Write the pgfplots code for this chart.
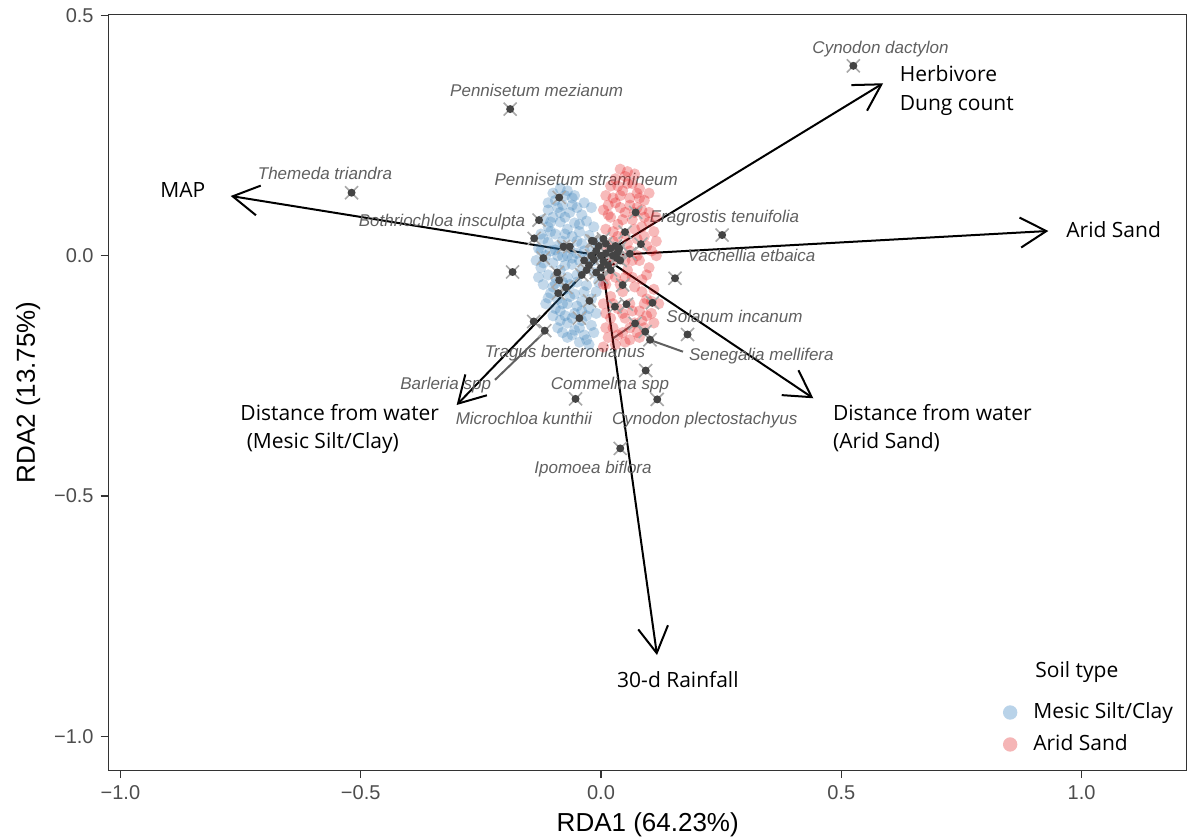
\documentclass[border=0pt]{standalone}
\usepackage{pgfplots}
\pgfplotsset{compat=1.18}
\usepackage{pgfplotstable}
\usepackage{fontspec}
\setmainfont{Liberation Sans}
\newfontfamily\osans{Open Sans}
\usetikzlibrary{arrows.meta}
\definecolor{sblue}{HTML}{377EB8}
\definecolor{sred}{HTML}{E41A1C}
\definecolor{lblue}{HTML}{B9D3E9}
\definecolor{lred}{HTML}{F5B5B6}
\definecolor{dgray}{HTML}{444444}
\definecolor{xgray}{HTML}{A8A8A8}
\definecolor{lgray}{HTML}{606060}
\definecolor{framec}{HTML}{333333}
\definecolor{tickl}{HTML}{4D4D4D}
\pgfdeclareplotmark{fdot}{\pgfpathcircle{\pgfpointorigin}{\pgfplotmarksize}\pgfusepathqfill}

\pgfplotstableread{
x y
-0.085 0.140
-0.070 0.135
-0.060 0.120
-0.095 0.115
-0.080 0.105
-0.050 0.100
-0.110 0.095
-0.065 0.090
-0.040 0.085
-0.100 0.080
-0.120 0.075
-0.085 0.070
-0.055 0.068
-0.030 0.072
-0.015 0.060
-0.110 0.060
-0.070 0.055
-0.045 0.050
-0.095 0.045
-0.125 0.045
-0.060 0.040
-0.025 0.042
-0.080 0.030
-0.110 0.028
-0.040 0.025
-0.130 0.015
-0.095 0.012
-0.065 0.015
-0.020 0.018
-0.050 0.005
-0.115 0.000
-0.080 -0.002
-0.030 -0.005
-0.100 -0.015
-0.060 -0.018
-0.125 -0.025
-0.085 -0.030
-0.040 -0.030
-0.015 -0.035
-0.110 -0.040
-0.070 -0.045
-0.050 -0.055
-0.095 -0.058
-0.120 -0.060
-0.030 -0.062
-0.075 -0.070
-0.105 -0.078
-0.055 -0.080
-0.010 -0.075
-0.090 -0.090
-0.040 -0.095
-0.070 -0.100
-0.115 -0.100
-0.025 -0.110
-0.085 -0.115
-0.055 -0.120
-0.100 -0.125
-0.040 -0.135
-0.070 -0.140
-0.020 -0.145
-0.090 -0.150
-0.055 -0.155
-0.035 -0.165
-0.070 -0.170
-0.045 -0.180
-0.025 -0.185
-0.060 -0.130
-0.010 -0.120
-0.005 -0.055
-0.008 0.030
-0.035 0.110
-0.075 0.080
-0.090 0.000
-0.135 -0.010
-0.105 0.050
-0.045 -0.010
-0.065 -0.060
-0.080 -0.160
-0.015 -0.160
-0.100 0.130
-0.075 0.125
-0.090 0.100
-0.060 0.105
-0.105 0.070
-0.045 0.065
-0.075 0.045
-0.120 0.035
-0.050 0.030
-0.090 0.020
-0.105 0.010
-0.070 0.000
-0.035 0.010
-0.120 -0.015
-0.075 -0.020
-0.050 -0.040
-0.095 -0.045
-0.130 -0.045
-0.080 -0.055
-0.035 -0.075
-0.065 -0.085
-0.110 -0.088
-0.080 -0.100
-0.050 -0.105
-0.095 -0.110
-0.030 -0.125
-0.075 -0.125
-0.045 -0.150
-0.060 -0.165
-0.030 -0.175
-0.085 -0.135
-0.020 -0.090
-0.110 0.110
-0.055 0.125
-0.020 0.100
-0.040 -0.115
-0.100 -0.065
-0.125 0.010
-0.060 -0.005
-0.015 -0.010
-0.085 0.090
}\mesic

\pgfplotstableread{
x y
0.040 0.180
0.050 0.165
0.030 0.160
0.065 0.150
0.020 0.145
0.080 0.140
0.045 0.135
0.010 0.125
0.060 0.120
0.090 0.115
0.030 0.110
0.075 0.100
0.005 0.095
0.050 0.090
0.100 0.090
0.020 0.080
0.065 0.075
0.035 0.065
0.085 0.060
0.010 0.055
0.110 0.050
0.050 0.045
0.075 0.035
0.025 0.030
0.095 0.020
0.060 0.010
0.040 0.000
0.115 0.000
0.080 -0.010
0.015 -0.015
0.100 -0.025
0.055 -0.030
0.030 -0.045
0.085 -0.050
0.070 -0.065
0.110 -0.070
0.045 -0.075
0.020 -0.085
0.095 -0.090
0.060 -0.100
0.035 -0.110
0.080 -0.115
0.010 -0.120
0.105 -0.120
0.050 -0.130
0.070 -0.140
0.025 -0.150
0.090 -0.150
0.045 -0.160
0.015 -0.170
0.060 -0.175
0.030 -0.185
0.005 -0.190
0.120 -0.100
0.070 0.170
0.100 0.130
0.040 0.100
0.010 0.020
0.065 -0.010
0.005 -0.060
0.090 0.080
0.115 0.030
0.075 -0.160
0.035 0.040
0.055 0.150
0.025 -0.010
0.085 -0.135
0.050 -0.045
0.015 0.105
0.080 0.120
0.055 0.175
0.035 0.145
0.075 0.130
0.025 0.120
0.060 0.105
0.085 0.095
0.015 0.085
0.045 0.075
0.100 0.070
0.070 0.055
0.025 0.050
0.090 0.040
0.055 0.025
0.105 0.010
0.030 0.010
0.075 0.000
0.050 -0.010
0.095 -0.040
0.015 -0.040
0.065 -0.045
0.040 -0.060
0.085 -0.075
0.105 -0.095
0.025 -0.100
0.065 -0.115
0.045 -0.120
0.095 -0.125
0.020 -0.130
0.060 -0.150
0.035 -0.165
0.080 -0.170
0.010 -0.150
0.050 -0.180
0.110 -0.140
0.005 -0.100
0.040 0.125
0.070 0.090
0.115 0.080
0.010 -0.060
0.090 -0.100
}\arid

\pgfplotstableread{
x y
0.525 0.395
-0.189 0.305
-0.519 0.131
-0.087 0.121
-0.129 0.074
0.072 0.090
0.060 0.004
0.180 -0.164
0.102 -0.175
0.071 -0.141
-0.117 -0.156
0.093 -0.239
-0.053 -0.298
0.117 -0.299
0.040 -0.401
0.252 0.043
0.154 -0.047
-0.184 -0.034
-0.140 -0.137
0.107 -0.098
0.053 -0.101
0.029 -0.106
0.092 -0.158
-0.045 -0.130
-0.024 -0.094
-0.089 -0.078
-0.139 0.036
-0.078 0.019
-0.065 0.019
-0.019 0.031
0.050 0.049
0.083 0.024
-0.120 -0.005
-0.091 -0.035
-0.087 -0.051
-0.073 -0.066
0.045 -0.061
0.038 0.015
0.033 -0.005
0.000 0.000
0.010 0.005
-0.010 0.010
0.005 -0.012
-0.015 -0.008
0.020 0.015
-0.005 0.020
0.015 -0.020
-0.020 0.000
0.025 0.000
-0.025 -0.020
0.000 -0.025
0.010 0.025
-0.030 -0.030
0.030 0.020
0.020 -0.030
-0.010 -0.035
0.035 0.008
-0.035 -0.010
0.005 0.035
-0.040 -0.040
0.000 -0.045
-0.015 0.030
0.040 -0.010
}\species

\begin{document}
\begin{tikzpicture}
\begin{axis}[
  x=240.3pt, y=240.3pt,
  xmin=-1.0244, xmax=1.219, ymin=-1.0705, ymax=0.5015,
  axis line style={framec, line width=0.6pt},
  xtick={-1,-0.5,0,0.5,1},
  xticklabels={−1.0,−0.5,0.0,0.5,1.0},
  ytick={-1,-0.5,0,0.5},
  yticklabels={−1.0,−0.5,0.0,0.5},
  xtick pos=left, ytick pos=left,
  tick align=outside, major tick length=4pt,
  every tick/.style={framec, line width=0.6pt},
  tick label style={font=\fontsize{10}{11}\selectfont, color=tickl},
  /pgf/number format/assume math mode=true,
  xlabel={RDA1 (64.23\%)}, ylabel={RDA2 (13.75\%)},
  label style={font=\fontsize{13}{15}\selectfont, color=black},
  clip=false,
  legend style={draw=none, fill=none, at={(0.8235,0.1)}, anchor=north west,
    font=\osans\fontsize{10.5}{12}\selectfont, row sep=2.5pt,
    /tikz/every odd column/.append style={column sep=6pt},
    /tikz/every even column/.append style={column sep=0pt}},
  legend cell align=left,
]
\addplot[only marks, mark=fdot, mark size=2.8pt, color=sblue, opacity=0.3, forget plot] table[x=x,y=y] {\mesic};
\addplot[only marks, mark=fdot, mark size=2.8pt, color=sred, opacity=0.3, forget plot] table[x=x,y=y] {\arid};
\addplot[only marks, mark=x, mark size=4.6pt, color=xgray, line width=0.8pt, forget plot] table[x=x,y=y] {\species};
\addplot[only marks, mark=fdot, mark size=2pt, color=dgray, forget plot] table[x=x,y=y] {\species};
% gray repel segments
\addplot[lgray, line width=1pt, forget plot] coordinates {(-0.2206,-0.2584) (-0.12,-0.1615)};
\addplot[lgray, line width=1pt, forget plot] coordinates {(0.0256,-0.1716) (0.0707,-0.1407)};
\addplot[lgray, line width=1pt, forget plot] coordinates {(0.1706,-0.1998) (0.102,-0.1754)};
% biplot arrows
\addplot[black, line width=1pt, -{Straight Barb[length=13pt,width=15pt]}, forget plot] coordinates {(0,0) (-0.7705,0.1242)};
\addplot[black, line width=1pt, -{Straight Barb[length=13pt,width=15pt]}, forget plot] coordinates {(0,0) (0.587,0.3587)};
\addplot[black, line width=1pt, -{Straight Barb[length=13pt,width=15pt]}, forget plot] coordinates {(0,0) (0.9307,0.0514)};
\addplot[black, line width=1pt, -{Straight Barb[length=13pt,width=15pt]}, forget plot] coordinates {(0,0) (0.4418,-0.2967)};
\addplot[black, line width=1pt, -{Straight Barb[length=13pt,width=15pt]}, forget plot] coordinates {(0,0) (-0.3003,-0.3107)};
\addplot[black, line width=1pt, -{Straight Barb[length=13pt,width=15pt]}, forget plot] coordinates {(0,0) (0.1165,-0.831)};

\addlegendimage{only marks, mark=fdot, mark size=3.6pt, color=lblue}
\addlegendentry{Mesic Silt/Clay}
\addlegendimage{only marks, mark=fdot, mark size=3.6pt, color=lred}
\addlegendentry{Arid Sand}

% legend title
\node[anchor=west, inner sep=0pt, font=\osans\fontsize{10.5}{12}\selectfont] at (axis cs:0.903,-0.866) {Soil type};

% species labels
\begin{scope}[every node/.style={font=\itshape\fontsize{8.5}{10}\selectfont, color=lgray, text height=6pt, text depth=0.5pt, inner sep=0pt}]
\node at (axis cs:0.5816,0.4328) {Cynodon dactylon};
\node at (axis cs:-0.1338,0.3427) {Pennisetum mezianum};
\node at (axis cs:-0.5743,0.17) {Themeda triandra};
\node at (axis cs:-0.0308,0.1575) {Pennisetum stramineum};
\node at (axis cs:-0.3308,0.072) {Bothriochloa insculpta};
\node at (axis cs:0.257,0.0811) {Eragrostis tenuifolia};
\node at (axis cs:0.3132,-0.0006) {Vachellia etbaica};
\node at (axis cs:0.2778,-0.1282) {Solanum incanum};
\node at (axis cs:0.3336,-0.2066) {Senegalia mellifera};
\node at (axis cs:-0.075,-0.1997) {Tragus berteronianus};
\node at (axis cs:-0.3232,-0.2669) {Barleria spp};
\node at (axis cs:0.0187,-0.267) {Commelina spp};
\node at (axis cs:-0.1606,-0.3404) {Microchloa kunthii};
\node at (axis cs:0.2158,-0.3404) {Cynodon plectostachyus};
\node at (axis cs:-0.0166,-0.4411) {Ipomoea biflora};
\end{scope}
% arrow labels
\begin{scope}[every node/.style={font=\osans\fontsize{10.5}{14.3}\selectfont, inner sep=0pt, align=left}]
\node at (axis cs:-0.870,0.1365) {MAP};
\node[anchor=west] at (axis cs:0.621,0.343) {Herbivore\\Dung count};
\node[anchor=west] at (axis cs:0.9675,0.055) {Arid Sand};
\node[anchor=west] at (axis cs:0.482,-0.3585) {Distance from water\\(Arid Sand)};
\node[anchor=west] at (axis cs:-0.751,-0.3606) {Distance from water\\\hspace*{0.3em}(Mesic Silt/Clay)};
\node at (axis cs:0.160,-0.883) {30-d Rainfall};
\end{scope}
\coordinate (bbBL) at (axis cs:-1.2505,-1.2116);
\coordinate (bbTR) at (axis cs:1.2255,0.532);
\end{axis}
\pgfresetboundingbox
\useasboundingbox (bbBL) rectangle (bbTR);
\end{tikzpicture}
\end{document}
